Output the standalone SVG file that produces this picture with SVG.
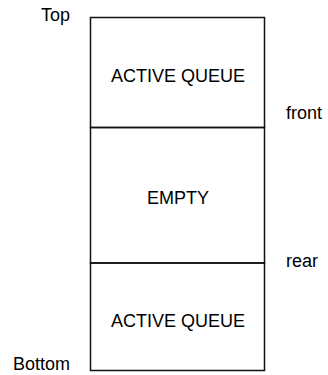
<svg xmlns="http://www.w3.org/2000/svg" width="328" height="375" viewBox="0 0 328 375">
<style>
text{font-family:"Liberation Sans",Arial,sans-serif;font-size:18px;fill:#000}
.c{text-anchor:middle}
.box{fill:none;stroke:#111;stroke-width:1.5}
</style>
<rect width="328" height="375" fill="#fff"/>
<g id="top-queue">
<rect class="box" x="90.5" y="17.5" width="174" height="110"/>
<text class="c" x="178" y="82">ACTIVE QUEUE</text>
</g>
<g id="empty">
<rect class="box" x="90.5" y="127.5" width="174" height="135.5"/>
<text class="c" x="178" y="204">EMPTY</text>
</g>
<g id="bottom-queue">
<rect class="box" x="90.5" y="263" width="174" height="107.5"/>
<text class="c" x="178" y="327">ACTIVE QUEUE</text>
</g>
<g id="labels">
<text x="41" y="21">Top</text>
<text x="13" y="370">Bottom</text>
<text x="286" y="119">front</text>
<text x="286" y="267">rear</text>
</g>
<g id="connectors"></g>
</svg>
